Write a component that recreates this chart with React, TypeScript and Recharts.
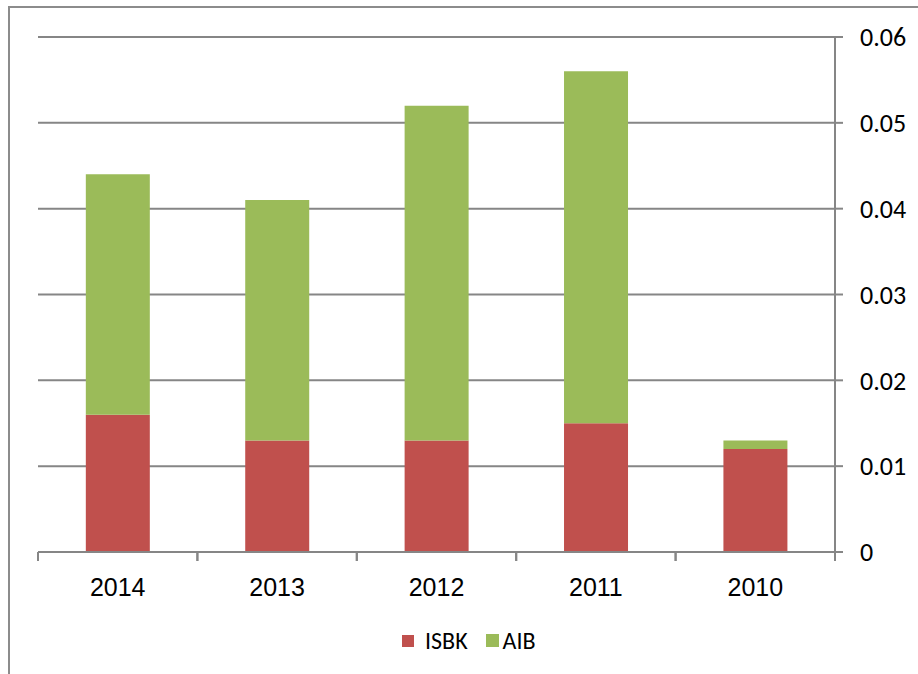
import React from "react";
import { BarChart, Bar, XAxis, YAxis, CartesianGrid } from "recharts";

const categories = ["2014", "2013", "2012", "2011", "2010"];
const isbkValues = [0.016, 0.013, 0.013, 0.015, 0.012];
const aibValues = [0.028, 0.028, 0.039, 0.041, 0.001];
const yTicks = [0, 0.01, 0.02, 0.03, 0.04, 0.05, 0.06];

const data = categories.map((c, i) => ({ year: c, ISBK: isbkValues[i], AIB: aibValues[i] }));

const GRAY = "#868686";
const RED = "#C0504D";
const GREEN = "#9BBB59";

const XTick = (props: any) => {
  const { x, y, payload } = props;
  const off = payload.offset || 0;
  return (
    <g>
      <line x1={x - off} x2={x - off} y1={y} y2={y + 9} stroke={GRAY} strokeWidth={2} />
      <line x1={x + off} x2={x + off} y1={y} y2={y + 9} stroke={GRAY} strokeWidth={2} />
      <text x={x} y={y + 44} textAnchor="middle" fontFamily="'Liberation Sans', Arial, sans-serif" fontSize={25} fill="#000">
        {payload.value}
      </text>
    </g>
  );
};

export default function App() {
  return (
    <div style={{ position: "absolute", left: 0, top: 0, width: 918, height: 674, overflow: "hidden", background: "#fff" }}>
      <div style={{ position: "absolute", left: 0, top: 0 }}>
        <BarChart width={918} height={674} data={data} margin={{ top: 37, right: 0, left: 38, bottom: 0 }} barCategoryGap="30%">
          <CartesianGrid horizontal vertical={false} stroke={GRAY} strokeWidth={2} />
          <XAxis dataKey="year" height={122} tickLine={false} tickSize={0} tickMargin={0} axisLine={{ stroke: GRAY, strokeWidth: 2 }} tick={<XTick />} interval={0} />
          <YAxis
            orientation="right"
            width={83}
            domain={[0, 0.06]}
            ticks={yTicks}
            interval={0}
            axisLine={{ stroke: GRAY, strokeWidth: 2 }}
            tickLine={{ stroke: GRAY, strokeWidth: 2 }}
            tickSize={8}
            tickMargin={17}
            tick={{ fill: "#000", fontSize: 26, fontFamily: "Carlito, Lato, 'Open Sans', sans-serif" }}
          />
          <Bar dataKey="ISBK" stackId="a" fill={RED} isAnimationActive={false} />
          <Bar dataKey="AIB" stackId="a" fill={GREEN} isAnimationActive={false} />
        </BarChart>
      </div>
      <div style={{ position: "absolute", left: 8, top: 6, width: 940, height: 700, borderLeft: "2px solid #8c8c8c", borderTop: "2px solid #8c8c8c", boxSizing: "border-box", zIndex: 5, pointerEvents: "none" }} />
      <div style={{ position: "absolute", left: 402, top: 626, display: "flex", alignItems: "center", fontFamily: "Carlito, Lato, 'Open Sans', sans-serif", fontSize: 24, color: "#000" }}>
        <span style={{ display: "inline-block", width: 12, height: 12, background: RED, marginRight: 11 }} />
        <span style={{ marginRight: 18 }}>ISBK</span>
        <span style={{ display: "inline-block", width: 13, height: 13, background: GREEN, marginRight: 4 }} />
        <span>AIB</span>
      </div>
    </div>
  );
}
